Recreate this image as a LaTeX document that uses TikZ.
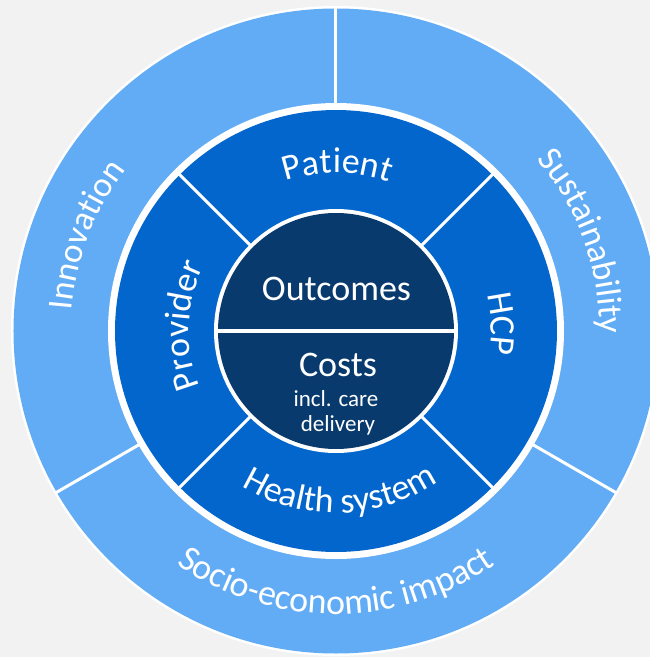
\documentclass[tikz,border=0pt]{standalone}
\usepackage{fontspec}
\setmainfont{Carlito}
\usetikzlibrary{decorations.text}
\definecolor{bg}{HTML}{F2F2F2}
\definecolor{outerblue}{HTML}{62ACF6}
\definecolor{midblue}{HTML}{0366CC}
\definecolor{navy}{HTML}{083A6D}
\newcommand\ringfont{\fontsize{36}{40}\selectfont}
\newcommand\outerfont{\fontsize{35}{40}\selectfont}
\newcommand\bottomfont{\fontsize{36}{40}\selectfont}
\tikzset{
  midtext/.style={decorate,decoration={text along path,text align=center,text color=white,text={|\ringfont|#1}}},
  outtext/.style={decorate,decoration={text along path,text align=center,text color=white,text={|\outerfont|#1}}},
  bottext/.style={decorate,decoration={text along path,text align=center,text color=white,text={|\bottomfont|#1}}},
  divider/.style={white,line width=3pt},
  centertext/.style={anchor=base,text=white,inner sep=0pt},
}
\begin{document}
\begin{tikzpicture}
\useasboundingbox (-336pt,-326pt) rectangle (314pt,331pt);
\fill[bg] (-336pt,-326pt) rectangle (314pt,331pt);
% outer ring
\fill[white] (0,0) circle[radius=325pt];
\fill[outerblue] (0,0) circle[radius=322.5pt];
\fill[white] (0,0) circle[radius=228pt];
% middle ring
\fill[midblue] (0,0) circle[radius=221pt];
\fill[white] (0,0) circle[radius=122pt];
% inner disc
\fill[navy] (0,0) circle[radius=118pt];
\draw[white,line width=4pt] (-120pt,0pt) -- (120pt,0pt);
% outer dividers
\foreach \a in {90,210,330} \draw[divider] (\a:226pt) -- (\a:323pt);
% middle dividers
\foreach \a in {45,135,225,315} \draw[divider] (\a:120pt) -- (\a:223pt);
% middle ring labels
\path[midtext=Patient] (149.5:158pt) arc[start angle=149.5,end angle=29.5,radius=158pt];
\path[midtext=HCP] (62.5:155pt) arc[start angle=62.5,end angle=-57.5,radius=155pt];
\path[midtext=Provider] (238:147pt) arc[start angle=238,end angle=118,radius=147pt];
\path[midtext={Health system}] (211.4:182pt) arc[start angle=211.4,end angle=331.4,radius=182pt];
% outer ring labels
\path[outtext=Innovation] (214:265pt) arc[start angle=214,end angle=104,radius=265pt];
\path[outtext=Sustainability] (75:264pt) arc[start angle=75,end angle=-35,radius=264pt];
\path[bottext={Socio-economic impact}] (200:283pt) arc[start angle=200,end angle=340,radius=283pt];
% centre texts
\node[centertext,font=\fontsize{36}{40}\selectfont] (outcomes) at (0.5pt,31pt) {Outcomes};
\node[centertext,font=\fontsize{36}{40}\selectfont] (costs) at (2pt,-45pt) {Costs};
\node[centertext,font=\fontsize{23}{26}\selectfont] (incl) at (0pt,-75pt) {incl. care};
\node[centertext,font=\fontsize{23}{26}\selectfont] (deliv) at (2pt,-100pt) {delivery};
\end{tikzpicture}
\end{document}
